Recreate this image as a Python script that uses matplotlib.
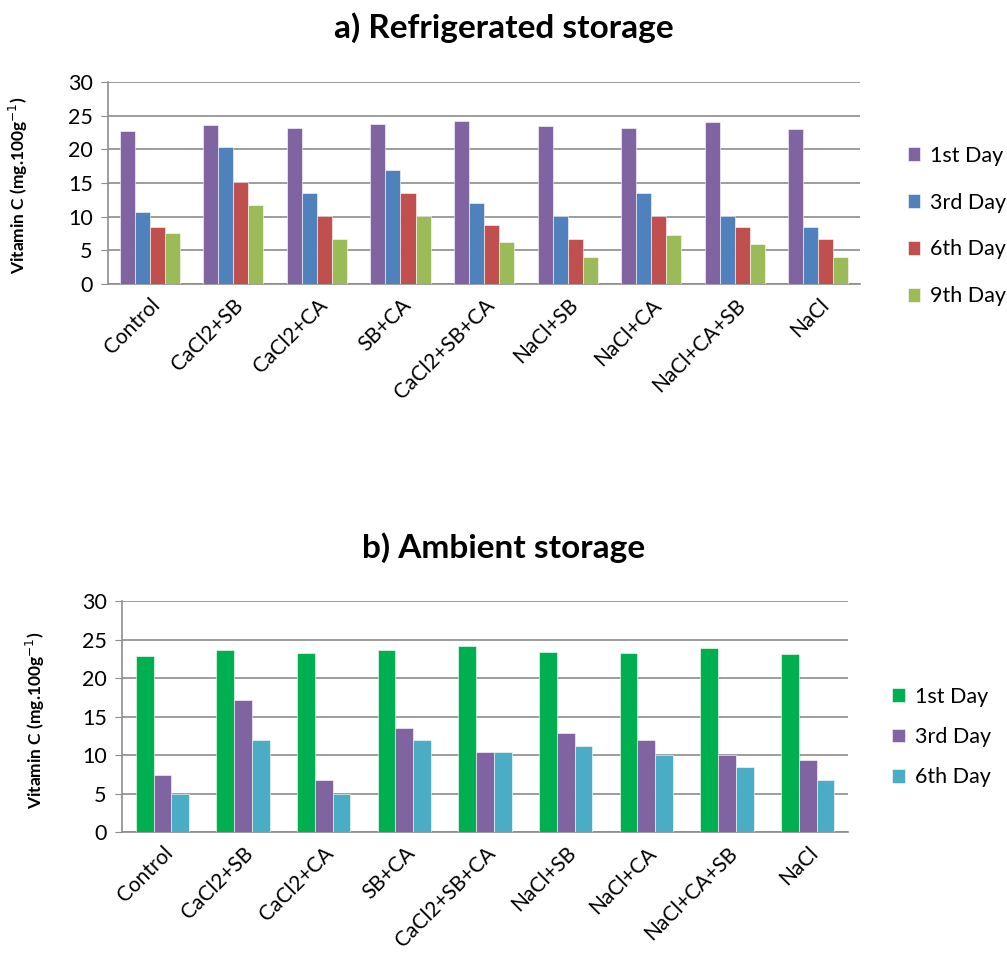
import numpy as np
import matplotlib
matplotlib.use("Agg")
import matplotlib.pyplot as plt

plt.rcParams['font.family'] = ['Lato', 'DejaVu Sans']

treatments = ["Control", "CaCl2+SB", "CaCl2+CA", "SB+CA", "CaCl2+SB+CA",
              "NaCl+SB", "NaCl+CA", "NaCl+CA+SB", "NaCl"]

# a) refrigerated storage
ref_day1 = [22.8, 23.6, 23.2, 23.8, 24.2, 23.4, 23.2, 24.0, 23.0]
ref_day3 = [10.7, 20.4, 13.5, 17.0, 12.0, 10.1, 13.5, 10.1, 8.4]
ref_day6 = [8.4, 15.2, 10.1, 13.5, 8.7, 6.7, 10.1, 8.4, 6.7]
ref_day9 = [7.6, 11.8, 6.7, 10.1, 6.3, 4.0, 7.3, 5.9, 4.0]

# b) ambient storage
amb_day1 = [22.9, 23.6, 23.2, 23.7, 24.2, 23.4, 23.2, 23.9, 23.1]
amb_day3 = [7.4, 17.1, 6.7, 13.5, 10.4, 12.9, 11.9, 10.0, 9.4]
amb_day6 = [5.0, 11.9, 5.0, 11.9, 10.4, 11.2, 10.0, 8.4, 6.7]

ref_labels = ["1st Day", "3rd Day", "6th Day", "9th Day"]
amb_labels = ["1st Day", "3rd Day", "6th Day"]
ref_colors = ["#8064A2", "#4F81BD", "#C0504D", "#9BBB59"]
amb_colors = ["#00B050", "#8064A2", "#4BACC6"]

grid_c = "#8c8c8c"


def draw(ax, series, labels, colors, width):
    x = np.arange(len(treatments))
    n = len(series)
    handles = []
    for i, (vals, lab, col) in enumerate(zip(series, labels, colors)):
        off = (i - (n - 1) / 2) * width
        b = ax.bar(x + off, vals, width, color=col, label=lab,
                   edgecolor="white", linewidth=0.4, zorder=3)
        handles.append(b)
    ax.set_xlim(-0.5, len(treatments) - 0.5)
    ax.set_ylim(0, 30)
    ax.set_yticks(range(0, 31, 5))
    ax.set_xticks(x)
    ax.set_xticklabels(treatments, rotation=45, ha="right",
                       rotation_mode="anchor", fontsize=15)
    ax.tick_params(axis="y", labelsize=15.5, length=5, color=grid_c, pad=6)
    ax.tick_params(axis="x", length=0, pad=8)
    ax.yaxis.grid(True, color=grid_c, linewidth=1.2, zorder=0)
    for s in ["top", "right"]:
        ax.spines[s].set_visible(False)
    for s in ["left", "bottom"]:
        ax.spines[s].set_color(grid_c)
        ax.spines[s].set_linewidth(1.2)
    return handles


fig = plt.figure(figsize=(10.07, 9.73), dpi=100)

ax1 = fig.add_axes([0.1072, 0.7081, 0.747, 0.2076])
h1 = draw(ax1, [ref_day1, ref_day3, ref_day6, ref_day9], ref_labels, ref_colors, 0.18)
fig.text(0.5, 1 - 28 / 973, "a) Refrigerated storage", ha="center", va="center",
         fontsize=24, fontweight="bold")
fig.text(0.018, 0.81, "Vitamin C (mg.100g$^{-1}$)", rotation=90, ha="center",
         va="center", fontsize=12.5, fontweight="bold")
fig.legend(h1, ref_labels, loc="center left", bbox_to_anchor=(0.882, 1 - 226 / 973),
           frameon=False, fontsize=15.5, handlelength=0.6, handleheight=0.6,
           handletextpad=0.45, labelspacing=1.25)

ax2 = fig.add_axes([0.1212, 0.1449, 0.7209, 0.2374])
h2 = draw(ax2, [amb_day1, amb_day3, amb_day6], amb_labels, amb_colors, 0.22)
fig.text(0.5, 1 - 548 / 973, "b) Ambient storage", ha="center", va="center",
         fontsize=24, fontweight="bold")
fig.text(0.035, 0.26, "Vitamin C (mg.100g$^{-1}$)", rotation=90, ha="center",
         va="center", fontsize=12.5, fontweight="bold")
fig.legend(h2, amb_labels, loc="center left", bbox_to_anchor=(0.867, 1 - 737 / 973),
           frameon=False, fontsize=15.5, handlelength=0.6, handleheight=0.6,
           handletextpad=0.45, labelspacing=0.95)

fig.savefig("out.png", dpi=100)
